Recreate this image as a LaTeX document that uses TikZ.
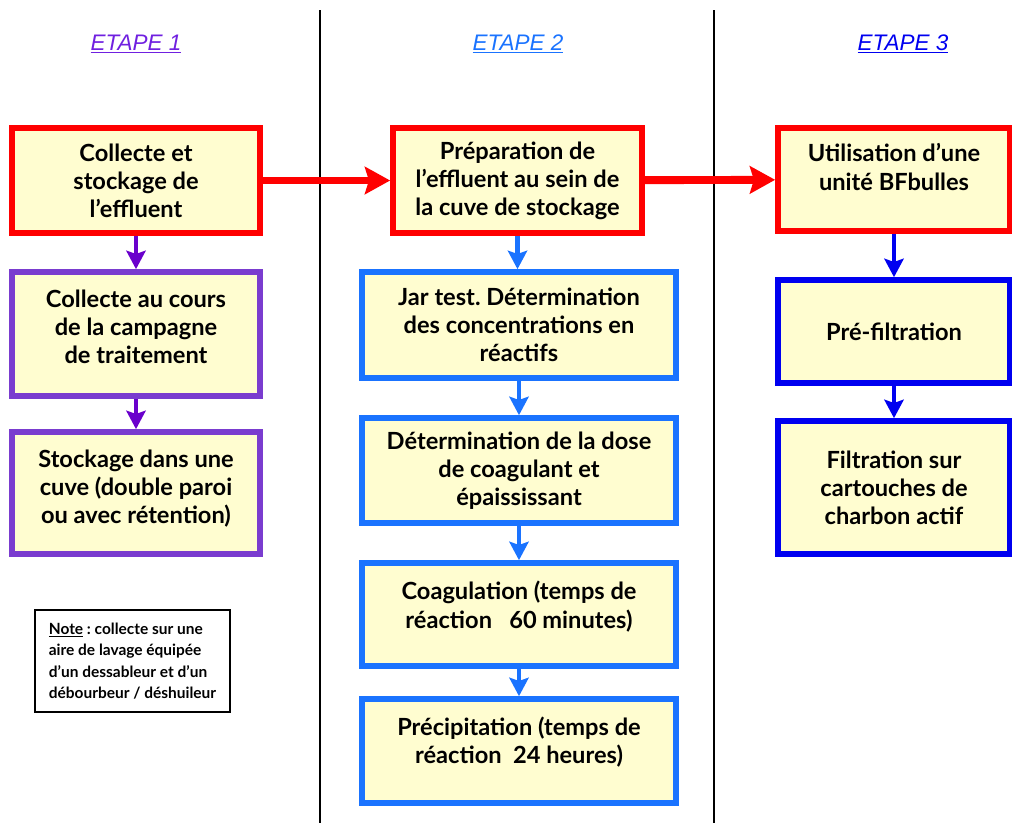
\documentclass[tikz,border=0pt]{standalone}
\usepackage{fontspec}
\setmainfont{Lato}
\newfontfamily\headfont{Liberation Sans}
\usetikzlibrary{arrows.meta}
\definecolor{boxfill}{HTML}{FFFDD0}
\definecolor{etapeA}{HTML}{7A3CCF}
\definecolor{etapeAarr}{HTML}{6A00CC}
\definecolor{etapeAhead}{HTML}{7020E0}
\definecolor{etapeB}{HTML}{1A73FF}
\definecolor{etapeC}{HTML}{0000F0}
\definecolor{redline}{HTML}{FF0000}
\frenchspacing

\begin{document}
\begin{tikzpicture}[x=0.025cm, y=-0.025cm, line cap=butt, line join=miter,
	stepbox/.style={draw, line width=4pt, fill=boxfill, align=center, inner sep=0pt,
		font=\bfseries\fontsize{16.8}{20}\selectfont},
	redbox/.style={stepbox, draw=redline},
	purplebox/.style={stepbox, draw=etapeA},
	bluebox/.style={stepbox, draw=etapeB},
	darkbox/.style={stepbox, draw=etapeC},
	etape/.style={font=\headfont\itshape\fontsize{16}{18}\selectfont},
	bigarrow/.style={-{Stealth[length=6.3mm, width=6.8mm, inset=1mm]}, line width=5.6pt, redline},
	smallarrow/.style={-{Stealth[length=4.6mm, width=4.8mm, inset=0.8mm]}, line width=3.2pt}]

\useasboundingbox (0,0) rectangle (1012,823);

%========================
% column separators
%========================
\draw[line width=1pt] (320,10) -- (320,823);
\draw[line width=1pt] (714,10) -- (714,823);

%========================
% headers
%========================
\node[etape, text=etapeAhead] (headA) at (136,44) {\underline{ETAPE 1}};
\node[etape, text=etapeB] (headB) at (518,44) {\underline{ETAPE 2}};
\node[etape, text=etapeC] (headC) at (903,44) {\underline{ETAPE 3}};

%========================
% Etape 1
%========================
\node[redbox, minimum width=6.2cm, minimum height=2.625cm] (collecte) at (136,180.5)
	{Collecte et\\stockage de\\l'effluent};
\node[purplebox, minimum width=6.2cm, minimum height=3.1cm] (campagne) at (136,334)
	{Collecte au cours\\de la campagne\\de traitement\\[-10pt]};
\node[purplebox, minimum width=6.2cm, minimum height=3.05cm] (cuve) at (136,493)
	{Stockage dans une\\cuve (double paroi\\ou avec rétention)\\[-11pt]};

% note
\node[draw, line width=0.9pt, minimum width=4.875cm, minimum height=2.55cm, align=left,
	font=\bfseries\fontsize{11}{15.3}\selectfont] (note) at (132.5,661)
	{\underline{Note} : collecte sur une\\aire de lavage équipée\\d'un dessableur et d'un\\débourbeur / déshuileur};

%========================
% Etape 2
%========================
\node[redbox, minimum width=6.225cm, minimum height=2.625cm] (preparation) at (517.5,180.5)
	{Préparation de\\l'effluent au sein de\\la cuve de stockage};
\node[bluebox, minimum width=7.85cm, minimum height=2.65cm] (jartest) at (519,325)
	{Jar test. Détermination\\des concentrations en\\réactifs};
\node[bluebox, minimum width=7.85cm, minimum height=2.625cm] (dose) at (519,470.5)
	{Détermination de la dose\\de coagulant et\\épaississant};
\node[bluebox, minimum width=7.85cm, minimum height=2.575cm] (coagulation) at (519,614.5)
	{Coagulation (temps de\\réaction~~~60 minutes)\\[-6pt]};
\node[bluebox, minimum width=7.85cm, minimum height=2.6cm] (precipitation) at (519,751)
	{Précipitation (temps de\\réaction~~24 heures)\\[-5pt]};

%========================
% Etape 3
%========================
\node[redbox, minimum width=5.8cm, minimum height=2.575cm] (bfbulles) at (894,179.5)
	{Utilisation d'une\\unité BFbulles\\[-2pt]};
\node[darkbox, minimum width=5.8cm, minimum height=2.575cm] (prefiltration) at (894,331.5)
	{Pré-filtration};
\node[darkbox, minimum width=5.8cm, minimum height=3.325cm] (charbon) at (894,487.5)
	{Filtration sur\\cartouches de\\charbon actif};

%========================
% arrows
%========================
\draw[bigarrow] (collecte) -- (preparation);
\draw[bigarrow] (preparation) -- (bfbulles);

\draw[smallarrow, etapeAarr] (collecte) -- (campagne);
\draw[smallarrow, etapeAarr] (campagne) -- (cuve);

\draw[smallarrow, etapeB] (preparation.south) -- (preparation.south |- jartest.north);
\draw[smallarrow, etapeB] (jartest) -- (dose);
\draw[smallarrow, etapeB] (dose) -- (coagulation);
\draw[smallarrow, etapeB] (coagulation) -- (precipitation);

\draw[smallarrow, etapeC] (bfbulles) -- (prefiltration);
\draw[smallarrow, etapeC] (prefiltration) -- (charbon);

\end{tikzpicture}
\end{document}
